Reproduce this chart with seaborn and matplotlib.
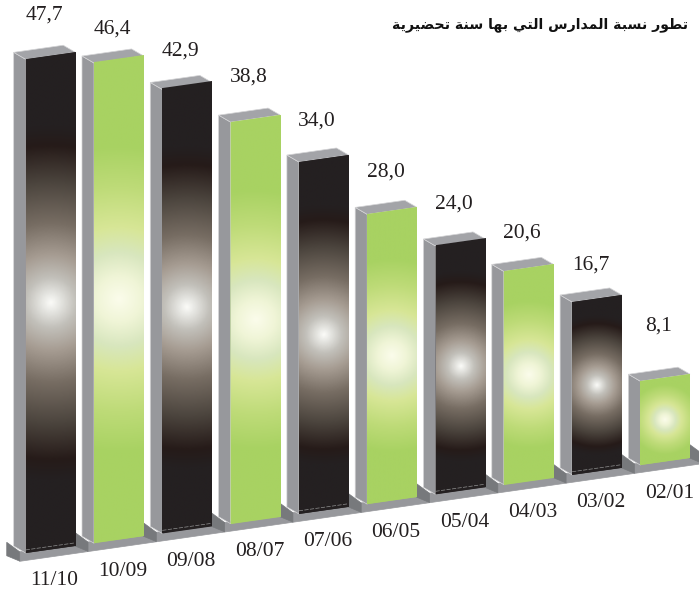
import numpy as np
import seaborn as sns
import matplotlib.pyplot as plt
from matplotlib.colors import LinearSegmentedColormap
from matplotlib.patches import Polygon
from matplotlib.transforms import Affine2D

# datos
periodos = ['11/10', '10/09', '09/08', '08/07', '07/06', '06/05', '05/04', '04/03', '03/02', '02/01']
valores = [47.7, 46.4, 42.9, 38.8, 34.0, 28.0, 24.0, 20.6, 16.7, 8.1]
etiquetas = ['47,7', '46,4', '42,9', '38,8', '34,0', '28,0', '24,0', '20,6', '16,7', '8,1']
colores = ['#242021', '#a8d262'] * 5
sube_etiqueta = [42, 31, 36, 42, 38, 40, 39, 36, 34, 53]  # pixeles sobre la barra

# titulo: matplotlib no une el arabe, van las formas de presentacion y en orden visual
palabras = [
    '\ufe97\ufec4\ufeee\ufead',
    '\ufee7\ufeb4\ufe92\ufe94',
    '\ufe8d\ufedf\ufee4\ufeaa\ufe8d\ufead\ufeb1',
    '\ufe8d\ufedf\ufe98\ufef2',
    '\ufe91\ufeec\ufe8e',
    '\ufeb3\ufee8\ufe94',
    '\ufe97\ufea4\ufec0\ufef4\ufeae\ufef3\ufe94',
]
titulo = ' '.join(palabras)[::-1]

# el ultimo tramo pasa del anillo oscuro al color plano de la barra
negro = LinearSegmentedColormap.from_list('negro', [
    (0.0, '#fbfbf8'), (0.05, '#e6e6e2'), (0.14, '#c2c0ba'), (0.27, '#a69c92'),
    (0.45, '#776d63'), (0.68, '#4c453e'), (0.89, '#261b19'), (1.0, '#242021')])
verde = LinearSegmentedColormap.from_list('verde', [
    (0.0, '#fbfceb'), (0.13, '#f0f5d7'), (0.27, '#d8e6be'), (0.42, '#d7e696'),
    (0.65, '#bedb78'), (0.89, '#a8d262'), (1.0, '#a8d262')])

sns.set_theme(style='white')
plt.rcParams['font.family'] = ['Liberation Serif', 'DejaVu Sans']

fig = plt.figure(figsize=(6.99, 5.92), dpi=100)
ax = fig.add_axes([0, 0, 1, 1])
sns.barplot(x=periodos, y=valores, hue=periodos, palette=colores, legend=False,
            saturation=1, width=0.725, ax=ax, zorder=3)
barras = list(ax.patches)

xlim = (-0.739, 9.495)
ylim = (-4.108, 53.09)
px_x = 699 / (xlim[1] - xlim[0])
px_y = 592 / (ylim[1] - ylim[0])

# inclinacion de toda la base, sube hacia la derecha
k = 0.944
sesgo = Affine2D.from_values(1, k, 0, 1, 0, 0) + ax.transData
fondo_x, fondo_v = -0.176, 0.842
gris = '#97989c'
gris_tapa = '#a3a4a8'
gris_oscuro = '#77797c'
borde = '#d4d4d6'


def cara(puntos, color, z, linea=borde):
    ax.add_patch(Polygon(puntos, closed=True, facecolor=color, edgecolor=linea,
                         linewidth=0.5, transform=sesgo, zorder=z))


# zocalo, uno mas para que asome el siguiente escalon a la derecha
ancho = barras[0].get_width()
for i in range(len(valores) + 1):
    izq = i - ancho / 2 - 0.088
    cara([(izq, -0.72), (izq + 1, -0.72), (izq + 1, 0.2), (izq, 0.2)], gris, 1, gris)
    cara([(izq - 0.19, 0), (izq, -0.7), (izq, 0.2), (izq - 0.19, 1.3)], gris_oscuro, 1.5, gris_oscuro)

for i, barra in enumerate(barras):
    x0 = barra.get_x()
    x1 = x0 + barra.get_width()
    alto = barra.get_height()
    barra.set_transform(sesgo)
    barra.set_linewidth(0)

    cara([(x0, 0), (x0, alto), (x0 + fondo_x, alto + fondo_v), (x0 + fondo_x, fondo_v)], gris, 2)
    cara([(x0, alto), (x1, alto), (x1 + fondo_x, alto + fondo_v), (x0 + fondo_x, alto + fondo_v)], gris_tapa, 2)

    # brillo redondo en el centro de cada barra
    xs = np.linspace(x0, x1, 60)
    vs = np.linspace(0, alto, 300)
    mx, mv = np.meshgrid(xs, vs)
    xc = (x0 + x1) / 2
    dx = (mx - xc) * px_x
    dy = ((mv - alto / 2) + k * (mx - xc)) * px_y
    radio = 0.30 * alto * px_y + 10
    d = np.clip(np.hypot(dx, dy) / radio, 0, 1.12)
    ax.imshow(d, extent=(x0, x1, 0, alto), origin='lower', aspect='auto',
              cmap=negro if i % 2 == 0 else verde, vmin=0, vmax=1.12,
              interpolation='bilinear', transform=sesgo, zorder=3.5)

    if i % 2 == 0:
        ax.plot([x0, x1], [0.3, 0.3], color='#8f8f8f', lw=0.5, ls=(0, (6, 2)),
                transform=sesgo, zorder=4)

    ax.text(xc - 0.095, alto + sube_etiqueta[i] / px_y, etiquetas[i], transform=sesgo,
            ha='center', va='center', fontsize=15.5, color='#231f20', zorder=5)
    ax.text(xc + 0.06, -3.1, periodos[i], transform=sesgo,
            ha='center', va='center', fontsize=15.5, color='#231f20', zorder=5)

ax.text(688, 592 - 25, titulo, transform=None, ha='right', va='center', fontsize=10.2,
        fontweight='bold', family='DejaVu Sans', color='#111111')

ax.set_xlim(xlim)
ax.set_ylim(ylim)
ax.set_axis_off()

fig.savefig('out.png', dpi=100)
plt.close(fig)
